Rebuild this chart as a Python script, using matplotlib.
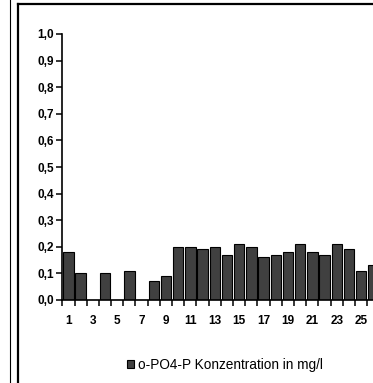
import numpy as np
import matplotlib.pyplot as plt
from matplotlib.lines import Line2D
from matplotlib.ticker import FuncFormatter, MultipleLocator

plt.rcParams['font.family'] = ['Liberation Sans', 'DejaVu Sans']

# Tage (Probe-Nr.) und o-PO4-P Konzentration in mg/l
tage = np.arange(1, 27)
konz = [0.18, 0.10, 0.00, 0.10, 0.00, 0.11, 0.00, 0.07, 0.09, 0.20,
        0.20, 0.19, 0.20, 0.17, 0.21, 0.20, 0.16, 0.17, 0.18, 0.21,
        0.18, 0.17, 0.21, 0.19, 0.11, 0.13]
x_labels = [str(t) for t in range(1, 26, 2)]
legend_label = "o-PO4-P Konzentration in mg/l"

W, H = 373, 383
fig = plt.figure(figsize=(W / 100, H / 100), dpi=100)

# plot area (runs off the right edge like the cropped original)
x0, y0, x1, y1 = 62.3, 300, 62.3 + 26 * 12.2, 34
ax = fig.add_axes([x0 / W, 1 - y0 / H, (x1 - x0) / W, (y0 - y1) / H])

bars = ax.bar(tage, konz, width=0.84, color='#404040', edgecolor='black',
              linewidth=0.8, label=legend_label)

ax.set_xlim(0.5, 26.5)
ax.set_ylim(0, 1.0)
ax.yaxis.set_major_locator(MultipleLocator(0.1))
ax.yaxis.set_major_formatter(FuncFormatter(lambda v, p: f"{v:.1f}".replace('.', ',')))
ax.set_xticks(range(1, 26, 2))
ax.set_xticklabels(x_labels)
ax.set_xticks(np.arange(0.5, 27, 1), minor=True)

for s in ['top', 'right']:
    ax.spines[s].set_visible(False)
for s in ['left', 'bottom']:
    ax.spines[s].set_linewidth(1.2)

ax.tick_params(axis='y', direction='out', length=4, width=1.1, pad=2,
               labelsize=8.5)
ax.tick_params(axis='x', which='major', length=0, pad=11, labelsize=8.5)
ax.tick_params(axis='x', which='minor', direction='out', length=4, width=1.1)
for lab in ax.get_xticklabels() + ax.get_yticklabels():
    lab.set_fontweight('bold')

fig.legend(handles=[bars], labels=[legend_label], loc='center',
           bbox_to_anchor=(225 / W, 1 - 365 / H), frameon=False,
           handlelength=0.55, handleheight=0.55, handletextpad=0.3,
           fontsize=9.8)

# chart frame lines from the surrounding sheet
fig.add_artist(Line2D([10 / W, 10 / W], [0, 1], color='black', lw=0.8))
fig.add_artist(Line2D([18 / W, 18 / W], [0, 1 - 4 / H], color='black', lw=1.6))
fig.add_artist(Line2D([18 / W, 1], [1 - 4 / H, 1 - 4 / H], color='black', lw=1.6))

# cut-off title (only the lowest pixels are inside the crop)
fig.text(200 / W, 1 + 2.0 / H, "o-PO4-P Konzentration", ha='center',
         va='baseline', fontsize=10, fontweight='bold', color='#bbbbbb')

fig.savefig('out.png', dpi=100)
